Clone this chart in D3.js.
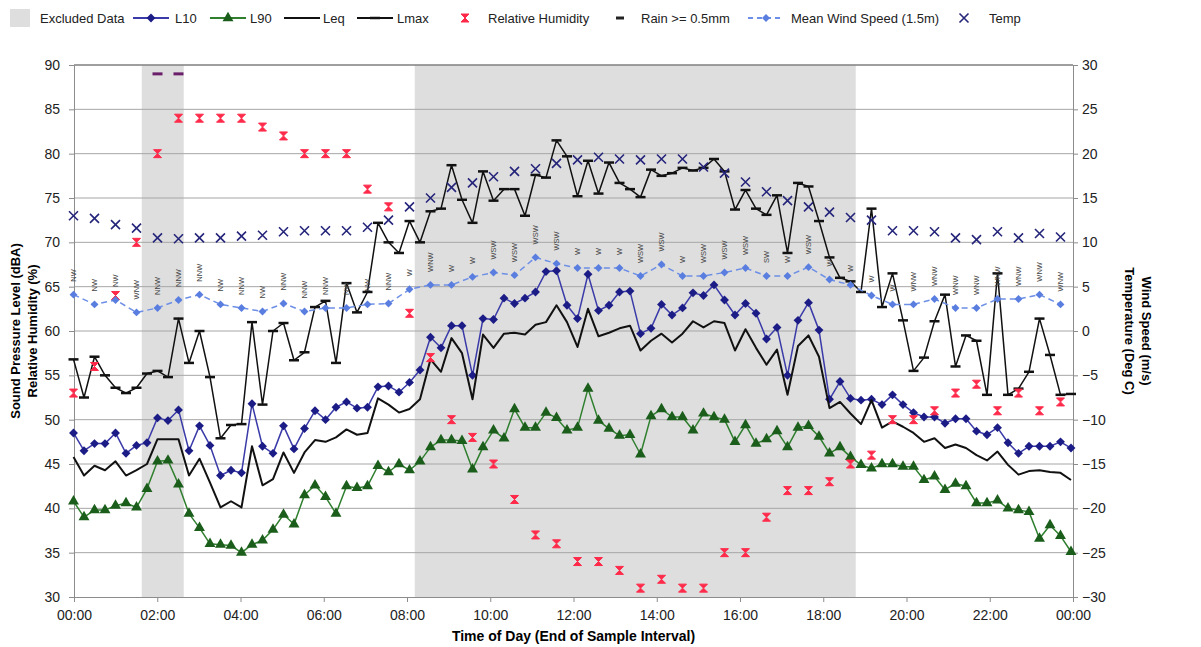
<!DOCTYPE html>
<html>
<head>
<meta charset="utf-8">
<script src="https://cdn.jsdelivr.net/npm/d3@7"></script>
<style>
body { margin: 0; background: #fff; }
text { font-family: "Liberation Sans", Arial, sans-serif; }
</style>
</head>
<body>
<svg id="chart" width="1201" height="647"></svg>
<script>
// 15 minute values, 00:00 .. 23:45
var l10 = [48.5, 46.5, 47.3, 47.3, 48.5, 46.2, 47.1, 47.4, 50.2, 49.9, 51.1, 46.5, 49.3, 47.1, 43.7, 44.3, 44.0, 51.8, 47.0, 46.2, 49.3, 46.7, 49.0, 51.0,
           50.0, 51.4, 52.0, 51.3, 51.4, 53.7, 53.8, 53.1, 54.2, 55.6, 59.3, 58.1, 60.6, 60.6, 55.0, 61.4, 61.3, 63.7, 63.1, 63.7, 64.4, 66.7, 66.8, 62.9,
           61.4, 66.4, 62.3, 62.9, 64.4, 64.5, 59.7, 60.3, 63.0, 61.8, 62.6, 64.3, 64.0, 65.2, 63.5, 61.8, 63.1, 62.0, 59.1, 60.4, 55.0, 61.2, 63.2, 60.1,
           52.3, 54.3, 52.4, 52.2, 52.3, 51.7, 52.8, 51.7, 50.8, 50.3, 50.3, 49.6, 50.1, 50.1, 48.7, 48.3, 49.1, 47.4, 46.2, 47.0, 47.0, 47.0, 47.5, 46.8];
var l90 = [40.8, 39.0, 39.8, 39.8, 40.3, 40.6, 40.1, 42.2, 45.3, 45.4, 42.7, 39.4, 37.8, 36.0, 35.9, 35.8, 35.0, 35.9, 36.4, 37.6, 39.3, 38.2, 41.5, 42.6,
           41.3, 39.4, 42.5, 42.3, 42.5, 44.8, 44.1, 45.0, 44.3, 45.3, 46.9, 47.7, 47.7, 47.6, 44.4, 46.9, 48.8, 47.9, 51.2, 49.1, 49.1, 50.8, 50.2, 48.8,
           49.1, 53.5, 49.9, 49.0, 48.2, 48.3, 46.1, 50.4, 51.2, 50.3, 50.3, 48.8, 50.7, 50.3, 50.0, 47.5, 49.4, 47.3, 47.8, 48.7, 46.9, 49.1, 49.3, 48.1,
           46.2, 46.9, 45.8, 44.9, 44.5, 45.0, 45.0, 44.7, 44.7, 43.2, 43.6, 42.1, 42.8, 42.5, 40.6, 40.6, 40.9, 40.0, 39.8, 39.6, 36.6, 38.1, 36.9, 35.1];
var leq = [45.8, 43.7, 44.8, 44.3, 45.3, 43.7, 44.3, 45.0, 47.8, 47.8, 47.8, 43.7, 45.6, 42.9, 40.1, 40.8, 40.1, 47.0, 42.6, 43.3, 46.3, 44.0, 46.3, 47.7,
           47.5, 48.0, 48.9, 48.3, 48.5, 52.4, 51.7, 50.8, 51.2, 52.3, 56.8, 55.4, 59.2, 57.5, 52.3, 59.6, 58.1, 59.7, 59.8, 59.6, 60.7, 61.0, 62.9, 61.0,
           58.2, 62.5, 59.4, 59.8, 60.3, 60.6, 57.8, 58.9, 59.7, 58.7, 59.7, 61.1, 60.4, 61.1, 60.9, 57.8, 60.2, 58.1, 56.2, 57.9, 52.8, 58.3, 59.5, 57.1,
           51.3, 52.0, 50.7, 49.5, 52.2, 49.1, 49.8, 49.2, 48.5, 47.5, 47.9, 46.8, 47.2, 46.8, 46.0, 45.4, 46.4, 44.9, 43.8, 44.2, 44.3, 44.1, 44.0, 43.2];
var lmax = [56.8, 52.5, 57.1, 55.0, 53.6, 53.0, 53.6, 55.2, 55.5, 54.8, 61.4, 56.4, 60.0, 54.8, 47.9, 49.4, 49.5, 61.0, 51.7, 60.0, 60.9, 56.7, 57.6, 62.7,
            63.4, 56.4, 65.4, 62.1, 64.4, 72.2, 70.0, 68.8, 72.4, 70.0, 73.5, 73.8, 78.7, 74.8, 72.2, 78.0, 74.7, 76.0, 76.0, 73.0, 77.6, 77.3, 81.5, 79.7,
            75.2, 79.2, 75.5, 79.0, 76.7, 76.0, 75.1, 78.2, 77.5, 77.8, 78.4, 78.1, 78.4, 79.4, 78.0, 73.7, 75.9, 73.8, 73.1, 75.3, 68.8, 76.7, 76.3, 72.4,
            68.3, 66.0, 65.6, 64.4, 73.8, 62.7, 66.5, 61.2, 55.5, 57.0, 61.1, 64.1, 56.0, 59.5, 58.9, 52.8, 66.5, 52.8, 53.5, 55.4, 61.4, 57.3, 52.8, 52.9];

// 30 minute values, 00:00 .. 23:30
var humidity = [53, 56, 64, 70, 80, 84, 84, 84, 84, 83, 82, 80, 80, 80, 76, 74, 62, 57, 50, 48, 45, 41, 37, 36,
                34, 34, 33, 31, 32, 31, 31, 35, 35, 39, 42, 42, 43, 45, 46, 50, 50, 51, 53, 54, 51, 53, 51, 52];
var temperature = [13.0, 12.7, 12.0, 11.6, 10.5, 10.4, 10.5, 10.5, 10.7, 10.8, 11.2, 11.3, 11.3, 11.3, 11.7, 12.5, 14.0, 15.0, 16.2, 16.7, 17.4, 18.0, 18.3, 18.9,
                   19.3, 19.6, 19.4, 19.3, 19.4, 19.4, 18.5, 17.8, 16.8, 15.7, 14.7, 14.0, 13.4, 12.8, 12.5, 11.3, 11.3, 11.2, 10.5, 10.3, 11.2, 10.5, 11.0, 10.6];
var windSpeed = [4.1, 3.0, 3.5, 2.1, 2.6, 3.5, 4.1, 3.0, 2.6, 2.2, 3.1, 2.2, 2.6, 2.6, 3.0, 3.1, 4.7, 5.2, 5.2, 6.1, 6.6, 6.3, 8.3, 7.6,
                 7.1, 7.1, 7.1, 6.2, 7.5, 6.2, 6.2, 6.6, 7.1, 6.2, 6.2, 7.2, 5.8, 5.2, 4.0, 3.0, 3.0, 3.6, 2.6, 2.6, 3.6, 3.6, 4.1, 3.0];
var windDir = ["NW", "NW", "NW", "WNW", "NNW", "NNW", "NNW", "NW", "NNW", "NW", "NNW", "NNW", "NNW", "NW", "NW", "NNW", "W", "WNW", "W", "W", "WSW", "WSW", "WSW", "WSW",
               "W", "W", "W", "WSW", "WSW", "W", "WSW", "WSW", "WSW", "SW", "W", "WSW", "W", "W", "W", "W", "WNW", "WNW", "WNW", "WNW", "WNW", "WNW", "WNW", "WNW"];

var rainTimes = ["02:00", "02:30"];
var rainLevel = 89;
var excluded = [["01:45", "02:30"], ["08:15", "18:30"]];
var leftTicks = [30, 35, 40, 45, 50, 55, 60, 65, 70, 75, 80, 85, 90];
var rightTicks = [-30, -25, -20, -15, -10, -5, 0, 5, 10, 15, 20, 25, 30];
var hourTicks = [0, 2, 4, 6, 8, 10, 12, 14, 16, 18, 20, 22, 24];

function pad(n) { return (n < 10 ? '0' : '') + n; }
var times = d3.range(96).map(function(i) { return pad(Math.floor(i / 4)) + ':' + pad((i % 4) * 15); });
var halfTimes = times.filter(function(t, i) { return i % 2 === 0; });

var plotL = 74, plotR = 1073, plotT = 65, plotB = 597;

var svg = d3.select('#chart');

var x = d3.scalePoint().domain(times).range([73.5, 1071]);
var step = x.step();
var xt = d3.scaleLinear().domain([0, 24]).range([plotL, plotR]);
var yL = d3.scaleLinear().domain([30, 90]).range([plotB, plotT]);
var yR = d3.scaleLinear().domain([-30, 30]).range([plotB, plotT]);

// Excluded data columns
svg.append('g').selectAll('rect')
   .data(excluded)
   .enter()
   .append('rect')
   .attr('x', function(d) { return x(d[0]) - step / 2; })
   .attr('width', function(d) { return x(d[1]) - x(d[0]) + step; })
   .attr('y', plotT)
   .attr('height', plotB - plotT)
   .style('fill', '#dedede');

// Gridlines
svg.append('g').selectAll('line')
   .data(leftTicks.slice(1))
   .enter()
   .append('line')
   .attr('x1', plotL).attr('x2', plotR)
   .attr('y1', function(d) { return yL(d); })
   .attr('y2', function(d) { return yL(d); })
   .style('stroke', function(d) { return d === 90 ? '#7f7f7f' : '#a6a6a6'; })
   .style('stroke-width', function(d) { return d === 90 ? 1.5 : 1; });

// Axes
var axL = svg.append('g')
   .attr('transform', 'translate(' + plotL + ',0)')
   .call(d3.axisLeft(yL).tickValues(leftTicks).tickSize(5).tickSizeOuter(0).tickPadding(9));
var axR = svg.append('g')
   .attr('transform', 'translate(' + plotR + ',0)')
   .call(d3.axisRight(yR).tickValues(rightTicks).tickSize(5).tickSizeOuter(0).tickPadding(4));
var axB = svg.append('g')
   .attr('transform', 'translate(0,' + plotB + ')')
   .call(d3.axisBottom(xt).tickValues(hourTicks).tickSize(5).tickSizeOuter(0).tickPadding(8)
           .tickFormat(function(h) { return pad(h % 24) + ':00'; }));
[axL, axR, axB].forEach(function(a) {
    a.selectAll('path, line').style('stroke', '#8c8c8c');
    a.selectAll('text').style('font-size', '14px').style('fill', '#222')
     .style('font-family', '"Liberation Sans", Arial, sans-serif');
});

// Axis titles
var midY = (plotT + plotB) / 2;
svg.append('text')
   .attr('transform', 'translate(20,' + midY + ') rotate(-90)')
   .attr('text-anchor', 'middle')
   .style('font-size', '13px').style('font-weight', 'bold')
   .text('Sound Pressure Level (dBA)');
svg.append('text')
   .attr('transform', 'translate(37,' + midY + ') rotate(-90)')
   .attr('text-anchor', 'middle')
   .style('font-size', '13px').style('font-weight', 'bold')
   .text('Relative Humidity (%)');
svg.append('text')
   .attr('transform', 'translate(1142,' + midY + ') rotate(90)')
   .attr('text-anchor', 'middle')
   .style('font-size', '13px').style('font-weight', 'bold')
   .text('Wind Speed (m/s)');
svg.append('text')
   .attr('transform', 'translate(1125,' + midY + ') rotate(90)')
   .attr('text-anchor', 'middle')
   .style('font-size', '13px').style('font-weight', 'bold')
   .text('Temperature (Deg C)');
svg.append('text')
   .attr('x', (plotL + plotR) / 2).attr('y', 641)
   .attr('text-anchor', 'middle')
   .style('font-size', '14px').style('font-weight', 'bold')
   .text('Time of Day (End of Sample Interval)');

// Marker shapes
var diamond = d3.symbol().type(d3.symbolDiamond2).size(50)();
var triangle = d3.symbol().type(d3.symbolTriangle).size(52)();
var windDiamond = d3.symbol().type(d3.symbolDiamond2).size(40)();
var hourglass = 'M-4,-4L4,-4L-4,4L4,4Z';
var cross = 'M-4.5,-4.5L4.5,4.5M4.5,-4.5L-4.5,4.5';

function series15(vals) { return vals.map(function(v, i) { return { t: times[i], v: v }; }); }
function series30(vals) { return vals.map(function(v, i) { return { t: halfTimes[i], v: v }; }); }

function drawLine(data, y, color, width, dash) {
    var line = d3.line().x(function(d) { return x(d.t); }).y(function(d) { return y(d.v); });
    svg.append('path')
       .datum(data)
       .attr('d', line)
       .style('fill', 'none')
       .style('stroke', color)
       .style('stroke-width', width)
       .style('stroke-linejoin', 'round')
       .style('stroke-dasharray', dash || null);
}

function drawMarkers(data, y, shape, fill, stroke, sw) {
    svg.append('g').selectAll('path')
       .data(data)
       .enter()
       .append('path')
       .attr('d', shape)
       .attr('transform', function(d) { return 'translate(' + x(d.t) + ',' + y(d.v) + ')'; })
       .style('fill', fill)
       .style('stroke', stroke)
       .style('stroke-width', sw);
}

// L10
drawLine(series15(l10), yL, '#3a3aa8', 1.5);
drawMarkers(series15(l10), yL, diamond, '#1c1c86', 'none', 0);
// L90
drawLine(series15(l90), yL, '#2f7f2f', 1.5);
drawMarkers(series15(l90), yL, triangle, '#1b5e1b', 'none', 0);
// Leq
drawLine(series15(leq), yL, '#111', 2);
// Lmax
drawLine(series15(lmax), yL, '#111', 1.5);
drawMarkers(series15(lmax), yL, 'M-5,0L5,0', 'none', '#111', 2.5);
// Relative humidity
drawMarkers(series30(humidity), yL, hourglass, '#ff2a4a', '#ff2a4a', 1);
// Rain
drawMarkers(rainTimes.map(function(t) { return { t: t, v: rainLevel }; }), yL, 'M-5,0L5,0', 'none', '#6b1f6b', 3);
// Wind speed
drawLine(series30(windSpeed), yR, '#6d8fe6', 1.5, '6,4');
drawMarkers(series30(windSpeed), yR, windDiamond, '#5a7ee0', 'none', 0);
svg.append('g').selectAll('text')
   .data(series30(windSpeed))
   .enter()
   .append('text')
   .attr('transform', function(d) { return 'translate(' + x(d.t) + ',' + (yR(d.v) - 13) + ') rotate(-90)'; })
   .attr('dy', '0.35em')
   .style('font-size', '7.5px')
   .style('fill', '#444')
   .text(function(d, i) { return windDir[i]; });
// Temperature
drawMarkers(series30(temperature), yR, cross, 'none', '#25257a', 1.6);

// Legend
var legend = [
    { label: 'Excluded Data', kind: 'box', x: 10, tx: 40 },
    { label: 'L10', kind: 'line', color: '#3a3aa8', marker: diamond, mfill: '#1c1c86', x: 133, tx: 175 },
    { label: 'L90', kind: 'line', color: '#2f7f2f', marker: triangle, mfill: '#1b5e1b', x: 210, tx: 250 },
    { label: 'Leq', kind: 'line', color: '#111', width: 2, x: 284, tx: 323 },
    { label: 'Lmax', kind: 'line', color: '#111', marker: 'M-5,0L5,0', mstroke: '#111', x: 357, tx: 397 },
    { label: 'Relative Humidity', kind: 'marker', marker: hourglass, mfill: '#ff2a4a', mstroke: '#ff2a4a', msw: 1, x: 465, tx: 488 },
    { label: 'Rain >= 0.5mm', kind: 'marker', marker: 'M-4,0L4,0', mstroke: '#222', msw: 3, x: 620, tx: 641 },
    { label: 'Mean Wind Speed (1.5m)', kind: 'line', color: '#6d8fe6', dash: '5,4', marker: windDiamond, mfill: '#5a7ee0', x: 748, tx: 791 },
    { label: 'Temp', kind: 'marker', marker: cross, mstroke: '#25257a', msw: 1.6, x: 964, tx: 989 }
];
var ly = 18;
var lg = svg.append('g');
legend.forEach(function(d) {
    if (d.kind === 'box') {
        lg.append('rect').attr('x', d.x).attr('y', ly - 9).attr('width', 20).attr('height', 18).style('fill', '#dedede');
    } else if (d.kind === 'line') {
        lg.append('line').attr('x1', d.x).attr('x2', d.x + 36).attr('y1', ly).attr('y2', ly)
          .style('stroke', d.color).style('stroke-width', d.width || 1.8).style('stroke-dasharray', d.dash || null);
    }
    if (d.marker) {
        var cx = d.kind === 'line' ? d.x + 18 : d.x;
        lg.append('path').attr('d', d.marker)
          .attr('transform', 'translate(' + cx + ',' + ly + ')')
          .style('fill', d.mfill || 'none')
          .style('stroke', d.mstroke || 'none')
          .style('stroke-width', d.msw || 2.5);
    }
    lg.append('text').attr('x', d.tx).attr('y', ly).attr('dy', '0.35em')
      .style('font-size', '13px').style('fill', '#222')
      .text(d.label);
});
</script>
</body>
</html>
